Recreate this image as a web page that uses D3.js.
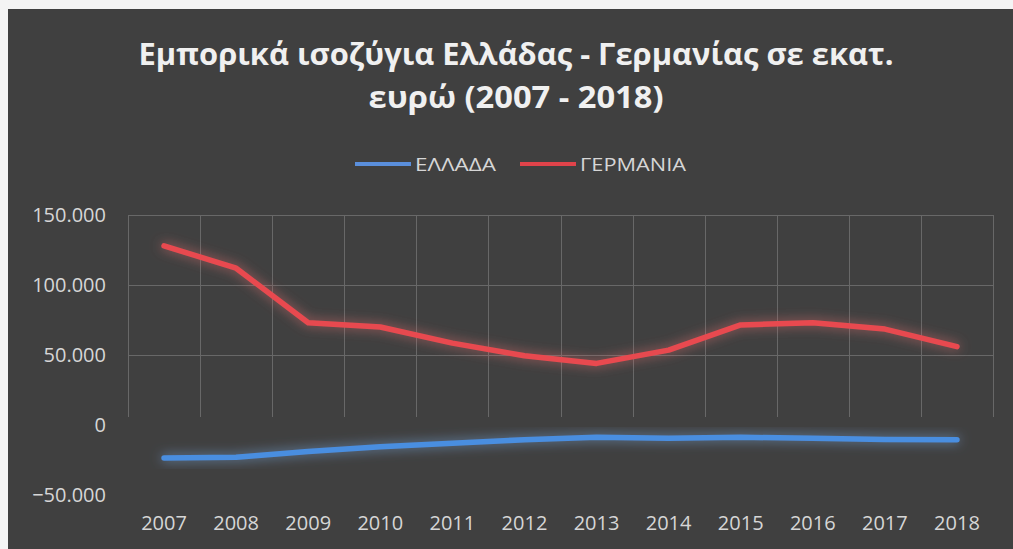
<!DOCTYPE html>
<html>
<head>
<meta charset="utf-8">
<script src="https://cdn.jsdelivr.net/npm/d3@7"></script>
<style>
  html, body { margin: 0; padding: 0; background: #fff; }
  svg { display: block; }
  .tick text { fill: #d6d6d6; font-family: "Open Sans", sans-serif; font-size: 20px; }
</style>
</head>
<body>
<svg id="chart"></svg>
<script>
// Trade balances Greece - Germany, million euro
const years = ["2007", "2008", "2009", "2010", "2011", "2012", "2013", "2014", "2015", "2016", "2017", "2018"];
const greece = [-23500, -23000, -19000, -15500, -13000, -10500, -8800, -9500, -8800, -9500, -10300, -10500];
const germany = [128000, 112000, 73000, 70000, 58500, 49500, 44000, 53500, 71500, 73000, 68500, 56000];
const yTicks = [-50000, 0, 50000, 100000, 150000];
const seriesNames = ["ΕΛΛΑΔΑ", "ΓΕΡΜΑΝΙΑ"];
const titleLines = ["Εμπορικά ισοζύγια Ελλάδας - Γερμανίας σε εκατ.", "ευρώ (2007 - 2018)"];

const width = 1013,
    height = 549;

const svg = d3.select('#chart')
    .attr('width', width)
    .attr('height', height);

// dark chart area with a thin light frame at top/left
svg.append('rect')
    .attr('width', width).attr('height', height)
    .attr('fill', '#f4f4f4');
svg.append('rect')
    .attr('x', 8).attr('y', 9)
    .attr('width', width - 8).attr('height', height - 9)
    .attr('fill', '#404040');

// glow filters for the lines
const defs = svg.append('defs');
function glow(id, color) {
    const f = defs.append('filter').attr('id', id)
        .attr('x', '-10%').attr('y', '-50%').attr('width', '120%').attr('height', '200%');
    f.append('feGaussianBlur').attr('in', 'SourceGraphic').attr('stdDeviation', 6).attr('result', 'b');
    f.append('feColorMatrix').attr('in', 'b').attr('type', 'matrix')
        .attr('values', '0 0 0 0 ' + color[0] + ' 0 0 0 0 ' + color[1] + ' 0 0 0 0 ' + color[2] + ' 0 0 0 0.75 0')
        .attr('result', 'g');
    const m = f.append('feMerge');
    m.append('feMergeNode').attr('in', 'g');
    m.append('feMergeNode').attr('in', 'SourceGraphic');
}
glow('glowRed', [0.7, 0.15, 0.15]);
glow('glowBlue', [0.18, 0.38, 0.72]);

const x = d3.scaleBand()
    .domain(years)
    .range([128, 993]);

const y = d3.scaleLinear()
    .domain([-50000, 150000])
    .range([495, 215]);

const fmt = (d) => d === 0 ? '0' : d3.format(',')(d).replace(/,/g, '.');

// Title
svg.append('g')
    .selectAll('text')
    .data(titleLines)
    .enter().append('text')
      .attr('x', 516)
      .attr('y', (d, i) => 65 + i * 43)
      .attr('text-anchor', 'middle')
      .attr('fill', '#f0f0f0')
      .attr('font-family', '"Open Sans", sans-serif')
      .attr('font-weight', 'bold')
      .attr('font-size', 30)
      .attr('textLength', (d, i) => i === 0 ? 755 : 295)
      .attr('lengthAdjust', 'spacingAndGlyphs')
      .text((d) => d);

// Gridlines
const grid = svg.append('g').attr('stroke', '#686868').attr('stroke-width', 1);
grid.selectAll('.h')
    .data(yTicks.filter((d) => d > 0))
    .enter().append('line')
      .attr('x1', x.range()[0]).attr('x2', x.range()[1])
      .attr('y1', (d) => y(d) + 0.5).attr('y2', (d) => y(d) + 0.5);
grid.selectAll('.v')
    .data(years.concat(['end']))
    .enter().append('line')
      .attr('x1', (d, i) => Math.round(x.range()[0] + i * x.step()) + 0.5)
      .attr('x2', (d, i) => Math.round(x.range()[0] + i * x.step()) + 0.5)
      .attr('y1', y(150000))
      .attr('y2', y(0) - 8);

// Axes
svg.append('g')
    .attr('transform', 'translate(106,0)')
    .call(d3.axisLeft(y).tickValues(yTicks).tickSize(0).tickPadding(0).tickFormat(fmt))
    .call((g) => g.select('.domain').remove());

svg.append('g')
    .attr('transform', 'translate(0,' + y(-50000) + ')')
    .call(d3.axisBottom(x).tickSize(0).tickPadding(21))
    .call((g) => g.select('.domain').remove());

// Lines
const line = d3.line()
    .x((d, i) => x(years[i]) + x.bandwidth() / 2)
    .y((d) => y(d));

svg.append('path')
    .datum(greece)
    .attr('d', line)
    .attr('fill', 'none')
    .attr('stroke', '#4a8ee0')
    .attr('stroke-width', 5.5)
    .attr('stroke-linejoin', 'round')
    .attr('stroke-linecap', 'round')
    .attr('filter', 'url(#glowBlue)');

svg.append('path')
    .datum(germany)
    .attr('d', line)
    .attr('fill', 'none')
    .attr('stroke', '#e84a4f')
    .attr('stroke-width', 5.5)
    .attr('stroke-linejoin', 'round')
    .attr('stroke-linecap', 'round')
    .attr('filter', 'url(#glowRed)');

// Legend
const legendColors = ['#5a8fdc', '#e0434a'];
const legendX = [355, 520];
const legendW = [81, 106];
const legend = svg.append('g').attr('class', 'legend');
seriesNames.forEach((name, i) => {
    legend.append('line')
        .attr('x1', legendX[i]).attr('x2', legendX[i] + 56)
        .attr('y1', 164).attr('y2', 164)
        .attr('stroke', legendColors[i])
        .attr('stroke-width', 4);
    legend.append('text')
        .attr('x', legendX[i] + 60)
        .attr('y', 171)
        .attr('fill', '#d6d6d6')
        .attr('font-family', '"Open Sans", sans-serif')
        .attr('font-size', 19)
        .attr('textLength', legendW[i])
        .attr('lengthAdjust', 'spacingAndGlyphs')
        .text(name);
});
</script>
</body>
</html>
